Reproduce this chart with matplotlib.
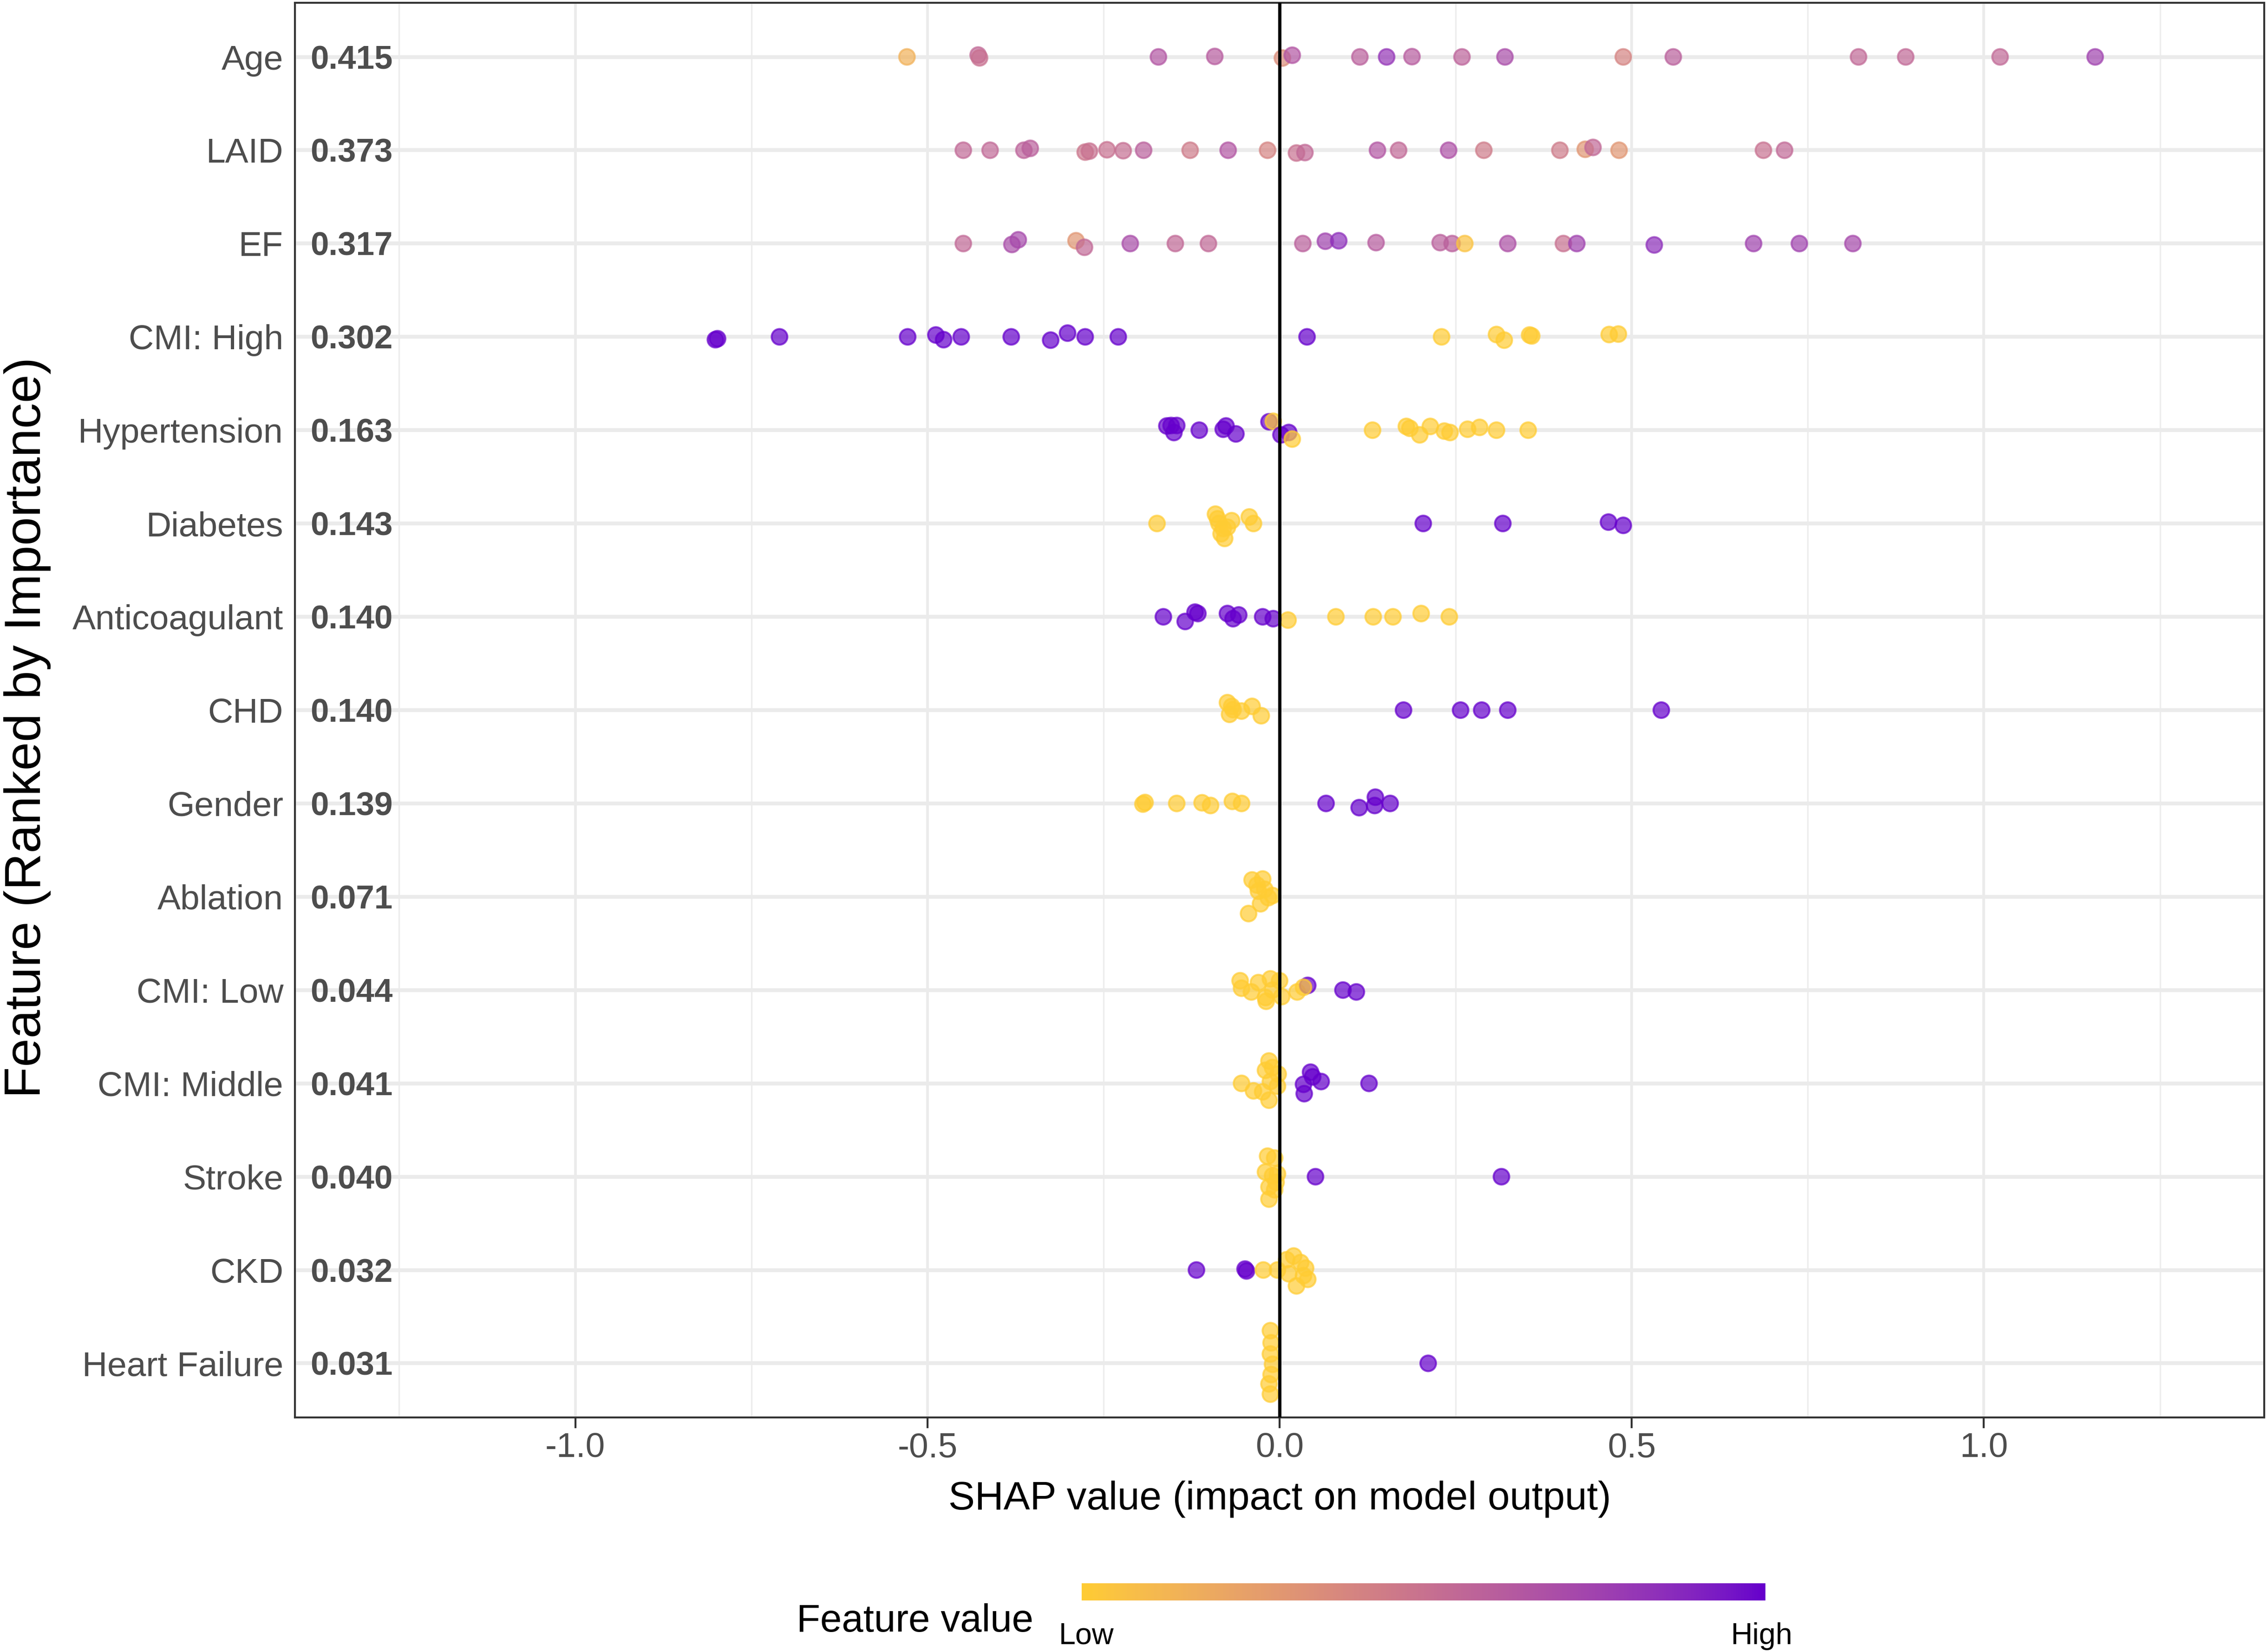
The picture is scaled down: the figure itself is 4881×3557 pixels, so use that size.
import numpy as np
import matplotlib
matplotlib.use("Agg")
import matplotlib.pyplot as plt
from matplotlib.colors import ListedColormap
from matplotlib.ticker import FixedLocator

plt.rcParams['font.family'] = ['Liberation Sans', 'DejaVu Sans']

# ---------------- data ----------------
features = ["Age", "LAID", "EF", "CMI: High", "Hypertension", "Diabetes",
            "Anticoagulant", "CHD", "Gender", "Ablation", "CMI: Low",
            "CMI: Middle", "Stroke", "CKD", "Heart Failure"]
importance = ["0.415", "0.373", "0.317", "0.302", "0.163", "0.143", "0.140",
              "0.140", "0.139", "0.071", "0.044", "0.041", "0.040", "0.032", "0.031"]

age_shap = [-0.529, -0.428, -0.426, -0.172, -0.092, 0.004, 0.018, 0.114, 0.152, 0.188,
            0.259, 0.320, 0.488, 0.559, 0.822, 0.889, 1.023, 1.158]
age_val = [0.15, 0.55, 0.5, 0.65, 0.62, 0.35, 0.65, 0.6, 0.82, 0.62, 0.58, 0.7, 0.4,
           0.6, 0.55, 0.55, 0.55, 0.75]
age_jit = [0, 0.02, -0.01, 0, 0.005, -0.012, 0.018, 0, 0, 0.003, 0, 0, 0, 0, 0, 0, 0, 0]

laid_shap = [-0.449, -0.411, -0.363, -0.354, -0.276, -0.270, -0.245, -0.222, -0.193, -0.127,
             -0.073, -0.017, 0.024, 0.036, 0.139, 0.169, 0.240, 0.290, 0.398, 0.434,
             0.445, 0.482, 0.687, 0.717]
laid_val = [0.55, 0.55, 0.58, 0.6, 0.48, 0.5, 0.5, 0.52, 0.6, 0.45, 0.65, 0.4, 0.5, 0.55,
            0.65, 0.55, 0.68, 0.45, 0.45, 0.3, 0.55, 0.3, 0.5, 0.55]
laid_jit = [0, 0, 0, 0.02, -0.02, -0.01, 0.005, -0.005, 0, 0, 0, 0, -0.03, -0.025, 0, 0,
            0, 0, 0, 0.01, 0.03, 0, 0, 0]

ef_shap = [-0.449, -0.380, -0.371, -0.289, -0.277, -0.212, -0.148, -0.101, 0.033, 0.065,
           0.084, 0.137, 0.228, 0.245, 0.263, 0.324, 0.403, 0.422, 0.532, 0.673, 0.738, 0.814]
ef_val = [0.55, 0.7, 0.72, 0.3, 0.55, 0.7, 0.55, 0.55, 0.6, 0.75, 0.85, 0.62, 0.6, 0.6,
          0.05, 0.68, 0.5, 0.75, 0.85, 0.75, 0.75, 0.72]
ef_jit = [0, -0.01, 0.04, 0.03, -0.04, 0, 0, 0, 0, 0.025, 0.03, 0.01, 0.01, 0, 0, 0, 0, 0,
          -0.015, 0, 0, 0]

cmih_shap = [-0.801, -0.798, -0.710, -0.528, -0.488, -0.477, -0.452, -0.381, -0.325, -0.301,
             -0.276, -0.229, 0.039, 0.230, 0.308, 0.319, 0.355, 0.358, 0.468, 0.481]
cmih_val = [1, 1, 1, 1, 1, 1, 1, 1, 1, 1, 1, 1, 1, 0, 0, 0, 0, 0, 0, 0]
cmih_jit = [-0.03, -0.02, 0, 0, 0.02, -0.03, 0, 0, -0.035, 0.04, 0, 0, 0, 0, 0.025, -0.035,
            0.02, 0.01, 0.025, 0.03]

hyp_shap = [-0.160, -0.154, -0.150, -0.146, -0.114, -0.080, -0.076, -0.062, -0.015, -0.009,
            0.002, 0.013, 0.018, 0.132, 0.180, 0.185, 0.199, 0.214, 0.234, 0.242, 0.267,
            0.284, 0.308, 0.353]
hyp_val = [1, 1, 1, 1, 1, 1, 1, 1, 1, 0, 1, 1, 0, 0, 0, 0, 0, 0, 0, 0, 0, 0, 0, 0]
hyp_jit = [0.045, 0.05, -0.025, 0.05, 0, 0.01, 0.045, -0.04, 0.09, 0.095, -0.05, -0.025,
           -0.095, 0, 0.04, 0.02, -0.05, 0.04, -0.01, -0.025, 0.01, 0.03, 0, 0]

dia_shap = [-0.174, -0.091, -0.088, -0.086, -0.083, -0.080, -0.078, -0.074, -0.068, -0.043,
            -0.037, 0.204, 0.317, 0.467, 0.488]
dia_val = [0, 0, 0, 0, 0, 0, 0, 0, 0, 0, 0, 1, 1, 1, 1]
dia_jit = [0, 0.10, 0.05, 0, -0.11, -0.055, -0.16, -0.04, 0.03, 0.07, 0, 0, 0, 0.015, -0.02]

anti_shap = [-0.165, -0.134, -0.120, -0.116, -0.074, -0.066, -0.058, -0.024, -0.009, 0.012,
             0.080, 0.133, 0.161, 0.201, 0.241]
anti_val = [1, 1, 1, 1, 1, 1, 1, 1, 1, 0, 0, 0, 0, 0, 0]
anti_jit = [0, -0.05, 0.05, 0.035, 0.035, -0.02, 0.02, 0, -0.02, -0.035, 0, 0, 0, 0.035, 0]

chd_shap = [-0.074, -0.071, -0.068, -0.066, -0.054, -0.039, -0.026, 0.176, 0.257, 0.287,
            0.324, 0.542]
chd_val = [0, 0, 0, 0, 0, 0, 0, 1, 1, 1, 1, 1]
chd_jit = [0.08, -0.045, 0.04, 0.005, -0.01, 0.04, -0.06, 0, 0, 0, 0, 0]

gen_shap = [-0.194, -0.191, -0.146, -0.110, -0.098, -0.067, -0.054, 0.066, 0.113, 0.135,
            0.136, 0.157]
gen_val = [0, 0, 0, 0, 0, 0, 0, 1, 1, 1, 1, 1]
gen_jit = [-0.007, 0.01, 0, 0.007, -0.022, 0.022, 0, 0, -0.045, -0.022, 0.067, 0]

abl_shap = [-0.039, -0.024, -0.030, -0.016, -0.027, -0.044, -0.021, -0.010, -0.032]
abl_val = [0, 0, 0, 0, 0, 0, 0, 0, 0]
abl_jit = [0.18, 0.19, 0.06, -0.01, -0.075, -0.18, 0.08, 0.013, 0.125]

cmil_shap = [-0.056, -0.054, -0.040, -0.030, -0.020, -0.019, -0.013, -0.010, 0.000, 0.003,
             0.025, 0.040, 0.034, 0.090, 0.109]
cmil_val = [0, 0, 0, 0, 0, 0, 0, 0, 0, 0, 0, 1, 0, 1, 1]
cmil_jit = [0.10, 0.02, -0.02, 0.08, -0.08, -0.12, 0.12, 0.0, 0.10, -0.07, -0.02, 0.05,
            0.03, 0.0, -0.02]

cmim_shap = [-0.054, -0.037, -0.024, -0.020, -0.015, -0.013, -0.015, -0.003, -0.002, -0.010,
             0.034, 0.035, 0.044, 0.047, 0.059, 0.127]
cmim_val = [0, 0, 0, 0, 0, 0, 0, 0, 0, 0, 1, 1, 1, 1, 1, 1]
cmim_jit = [0, -0.08, -0.09, 0.14, 0.24, 0.02, -0.18, -0.03, 0.10, 0.17, -0.01, -0.11,
            0.12, 0.07, 0.02, 0]

str_shap = [-0.017, -0.007, -0.020, -0.010, -0.003, -0.015, -0.007, -0.015, -0.005, 0.051, 0.315]
str_val = [0, 0, 0, 0, 0, 0, 0, 0, 0, 1, 1]
str_jit = [0.22, 0.20, 0.05, 0.01, 0.03, -0.11, -0.14, -0.24, -0.06, 0, 0]

ckd_shap = [-0.118, -0.049, -0.047, -0.023, -0.003, 0.010, 0.020, 0.030, 0.034, 0.024,
            0.040, 0.013, 0.037]
ckd_val = [1, 1, 1, 0, 0, 0, 0, 0, 0, 0, 0, 0, 0]
ckd_jit = [0, 0.01, -0.01, 0, 0, 0.11, 0.15, 0.08, -0.06, -0.17, -0.10, -0.04, 0.02]

hf_shap = [-0.013, -0.012, -0.013, -0.010, -0.012, -0.015, -0.013, 0.211]
hf_val = [0, 0, 0, 0, 0, 0, 0, 1]
hf_jit = [0.35, 0.22, 0.10, -0.01, -0.12, -0.22, -0.33, 0]

rows = [(age_shap, age_val, age_jit), (laid_shap, laid_val, laid_jit),
        (ef_shap, ef_val, ef_jit), (cmih_shap, cmih_val, cmih_jit),
        (hyp_shap, hyp_val, hyp_jit), (dia_shap, dia_val, dia_jit),
        (anti_shap, anti_val, anti_jit), (chd_shap, chd_val, chd_jit),
        (gen_shap, gen_val, gen_jit), (abl_shap, abl_val, abl_jit),
        (cmil_shap, cmil_val, cmil_jit), (cmim_shap, cmim_val, cmim_jit),
        (str_shap, str_val, str_jit), (ckd_shap, ckd_val, ckd_jit),
        (hf_shap, hf_val, hf_jit)]

x_ticks = [-1.0, -0.5, 0.0, 0.5, 1.0]
x_ticklabels = ["-1.0", "-0.5", "0.0", "0.5", "1.0"]
x_minor = [-1.25, -0.75, -0.25, 0.25, 0.75, 1.25]

# ---------------- colormap (Lab interpolation, like ggplot gradient) ----------------
def hex2rgb(h):
    h = h.lstrip('#')
    return np.array([int(h[i:i + 2], 16) / 255 for i in (0, 2, 4)])

M = np.array([[0.4124564, 0.3575761, 0.1804375],
              [0.2126729, 0.7151522, 0.0721750],
              [0.0193339, 0.1191920, 0.9503041]])
WHITE = np.array([0.95047, 1.0, 1.08883])

def rgb2lab(rgb):
    lin = np.where(rgb <= 0.04045, rgb / 12.92, ((rgb + 0.055) / 1.055) ** 2.4)
    t = (M @ lin) / WHITE
    d = 6 / 29
    f = np.where(t > d ** 3, np.cbrt(t), t / (3 * d * d) + 4 / 29)
    return np.array([116 * f[1] - 16, 500 * (f[0] - f[1]), 200 * (f[1] - f[2])])

def lab2rgb(lab):
    L, a, b = lab
    fy = (L + 16) / 116
    fx = fy + a / 500
    fz = fy - b / 200
    d = 6 / 29
    f = np.array([fx, fy, fz])
    t = np.where(f > d, f ** 3, 3 * d * d * (f - 4 / 29))
    xyz = t * WHITE
    lin = np.linalg.solve(M, xyz)
    lin = np.clip(lin, 0, 1)
    rgb = np.where(lin <= 0.0031308, 12.92 * lin, 1.055 * lin ** (1 / 2.4) - 0.055)
    return np.clip(rgb, 0, 1)

low_lab = rgb2lab(hex2rgb("#FFCC33"))
high_lab = rgb2lab(hex2rgb("#6600CC"))
cols = [lab2rgb(low_lab + (high_lab - low_lab) * f) for f in np.linspace(0, 1, 256)]
cmap = ListedColormap(cols)

# ---------------- figure ----------------
W, H = 4881, 3557
fig = plt.figure(figsize=(W / 300, H / 300), dpi=300)
ax = fig.add_axes([635 / W, 1 - 3052 / H, (4875 - 635) / W, (3052 - 6) / H])

ax.set_xlim(-1.398, 1.398)
ax.set_ylim(len(features) - 1 + 0.58, -0.58)

ax.xaxis.set_major_locator(FixedLocator(x_ticks))
ax.set_xticklabels(x_ticklabels)
ax.xaxis.set_minor_locator(FixedLocator(x_minor))
ax.set_yticks(range(len(features)))
ax.set_yticklabels(features)

ax.grid(False)
for xv in x_minor:
    ax.axvline(xv, color='#EDEDED', lw=0.8, zorder=0)
for xv in x_ticks:
    ax.axvline(xv, color='#EBEBEB', lw=1.4, zorder=0)
for i in range(len(features)):
    ax.axhline(i, color='#EBEBEB', lw=2.0, zorder=0)

for i, (sv, vv, jj) in enumerate(rows):
    y = [i - j for j in jj]
    ax.scatter(sv, y, c=vv, cmap=cmap, vmin=0, vmax=1, s=66, alpha=0.7,
               edgecolors='face', linewidths=1.0, zorder=2)

ax.axvline(0, color='black', lw=1.7, zorder=3)

for i, t in enumerate(importance):
    ax.text(-1.376, i, t, ha='left', va='center_baseline', fontsize=17, fontweight='bold',
            color='#4D4D4D', zorder=4)

for s in ax.spines.values():
    s.set_color('#333333')
    s.set_linewidth(1.0)

ax.tick_params(axis='x', which='major', length=5.5, width=1.0, color='#333333',
               labelsize=18, labelcolor='#4D4D4D', pad=2)
ax.tick_params(axis='x', which='minor', length=0)
ax.tick_params(axis='y', length=0, labelsize=18, labelcolor='#4D4D4D', pad=6)
for lab in ax.get_yticklabels():
    lab.set_verticalalignment('center_baseline')

fig.text(2755 / W, 1 - 3250 / H, "SHAP value (impact on model output)", ha='center',
         va='baseline', fontsize=20.5, color='black')
fig.text(87 / W, 1 - 1566 / H, "Feature (Ranked by Importance)", rotation=90,
         rotation_mode='anchor', ha='center', va='baseline', fontsize=26.5, color='black')

# ---------------- colourbar legend ----------------
cax = fig.add_axes([2329 / W, 1 - 3446 / H, (3801 - 2329) / W, 37 / H])
cax.imshow(np.linspace(0, 1, 256)[None, :], aspect='auto', cmap=cmap,
           extent=[0, 1, 0, 1])
cax.set_axis_off()
fig.text(1715 / W, 1 - 3513 / H, "Feature value", ha='left', va='baseline',
         fontsize=20, color='black')
fig.text(2339 / W, 1 - 3540 / H, "Low", ha='center', va='baseline', fontsize=15.5,
         color='black')
fig.text(3793 / W, 1 - 3540 / H, "High", ha='center', va='baseline', fontsize=15.5,
         color='black')

fig.savefig("out.png", dpi=300, facecolor='white')
